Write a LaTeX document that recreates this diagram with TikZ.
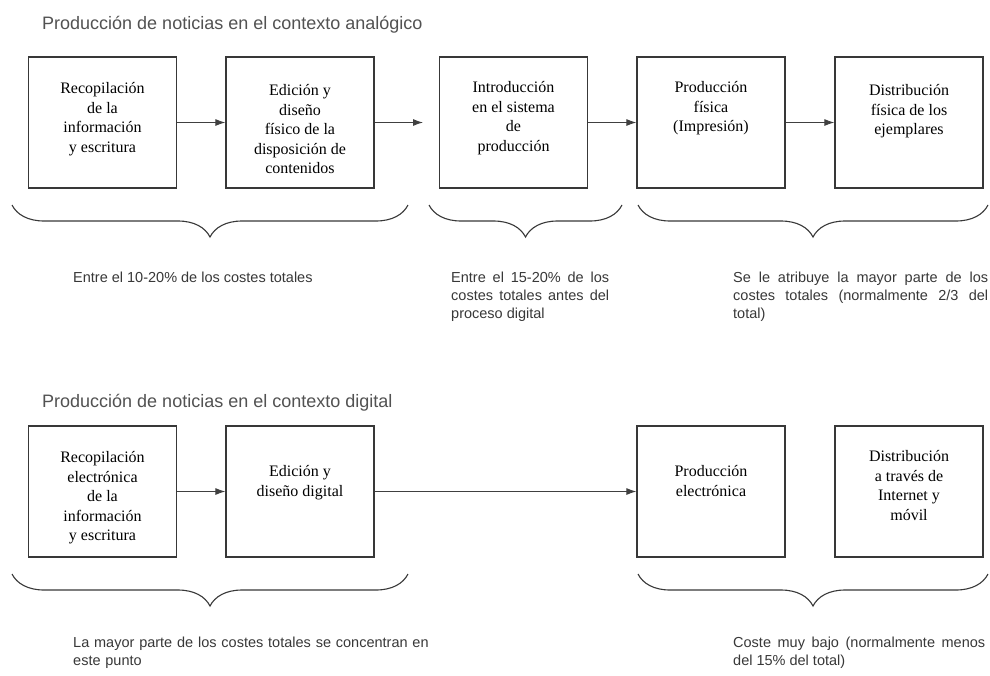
\documentclass[tikz,border=0pt]{standalone}
\usepackage{fontspec}
\setmainfont{Liberation Serif}
\newfontfamily\capfont{Liberation Sans}
\usetikzlibrary{positioning,arrows.meta,decorations.pathreplacing}

\definecolor{titlegray}{gray}{0.32}
\definecolor{notegray}{gray}{0.22}
\definecolor{linegray}{gray}{0.22}

\newcommand\notefont{\capfont\fontsize{14.5}{18}\selectfont\hyphenpenalty=10000\tolerance=9999}

\tikzset{
  box/.style={draw=linegray, line width=1.3pt, minimum width=148pt, minimum height=131pt, inner sep=0pt},
  boxtext/.style={align=center, inner sep=0pt, font=\fontsize{16}{19.5}\selectfont},
  flow/.style={draw=black!75, line width=0.9pt, -{Latex[length=10pt,width=7pt]}},
  curly/.style={draw=linegray, line width=1.1pt, decorate, decoration={brace, mirror, amplitude=32pt}},
  heading/.style={anchor=west, inner sep=0pt, text=titlegray, font=\capfont\fontsize{18}{22}\selectfont},
  note/.style={anchor=north west, inner sep=0pt, text=notegray, font=\notefont},
}

\begin{document}
\begin{tikzpicture}[x=1pt, y=-1pt]
  \fill[white] (0,0) rectangle (990,675);
  \useasboundingbox (0,0) rectangle (990,675);

  % Contexto analógico
  \node[heading] (tan) at (42,25) {Producción de noticias en el contexto analógico};
  \node[box] (a1) at (102.5,122.5) {};
  \node[box] (a2) at (300,122.5) {};
  \node[box] (a3) at (513.5,122.5) {};
  \node[box] (a4) at (711,122.5) {};
  \node[box] (a5) at (909,122.5) {};
  \node[boxtext, below=26pt of a1.north] (a1t) {Recopilación\\de la\\información\\y escritura};
  \node[boxtext, below=28pt of a2.north] (a2t) {Edición y\\diseño\\físico de la\\disposición de\\contenidos};
  \node[boxtext, below=25pt of a3.north] (a3t) {Introducción\\en el sistema\\de\\producción};
  \node[boxtext, below=25pt of a4.north] (a4t) {Producción\\física\\(Impresión)};
  \node[boxtext, below=28pt of a5.north] (a5t) {Distribución\\física de los\\ejemplares};
  \coordinate (a3in) at (423,122.5);
  \foreach \p/\q in {a1/a2, a2/a3in, a3/a4, a4/a5}
    \draw[flow] (\p) -- (\q);

  % Contexto digital
  \node[heading] (tdi) at (42,403) {Producción de noticias en el contexto digital};
  \node[box] (d1) at (102.5,491.5) {};
  \node[box] (d2) at (300,491.5) {};
  \node[box] (d3) at (711,491.5) {};
  \node[box] (d4) at (909,491.5) {};
  \node[boxtext, below=26pt of d1.north] (d1t) {Recopilación\\electrónica\\de la\\información\\y escritura};
  \node[boxtext, below=40pt of d2.north] (d2t) {Edición y\\diseño digital};
  \node[boxtext, below=40pt of d3.north] (d3t) {Producción\\electrónica};
  \node[boxtext, below=25pt of d4.north] (d4t) {Distribución\\a través de\\Internet y\\móvil};
  \foreach \p/\q in {d1/d2, d2/d3}
    \draw[flow] (\p) -- (\q);

  % Llaves
  \coordinate (ab1l) at (12,205);  \coordinate (ab1r) at (408,205);
  \coordinate (ab2l) at (429,205); \coordinate (ab2r) at (622,205);
  \coordinate (ab3l) at (638,205); \coordinate (ab3r) at (988,205);
  \coordinate (db1l) at (12,574);  \coordinate (db1r) at (408,574);
  \coordinate (db2l) at (638,574); \coordinate (db2r) at (988,574);
  \foreach \l/\r in {ab1l/ab1r, ab2l/ab2r, ab3l/ab3r, db1l/db1r, db2l/db2r}
    \draw[curly] (\l) -- (\r);

  % Costes
  \node[note] (an1) at (73,272) {Entre el 10-20\% de los costes totales};
  \node[note, text width=158pt, align=justify] (an2) at (451,272)
    {Entre el 15-20\% de los costes totales antes del proceso digital};
  \node[note, text width=255pt, align=justify] (an3) at (733,272)
    {Se le atribuye la mayor parte de los costes totales (normalmente 2/3 del total)};
  \node[note, text width=365pt, align=left] (dn1) at (73,637)
    {La mayor parte de los costes totales se concentran en este punto};
  \node[note, text width=252pt, align=justify] (dn2) at (733,637)
    {Coste muy bajo (normalmente menos del 15\% del total)};
\end{tikzpicture}
\end{document}
